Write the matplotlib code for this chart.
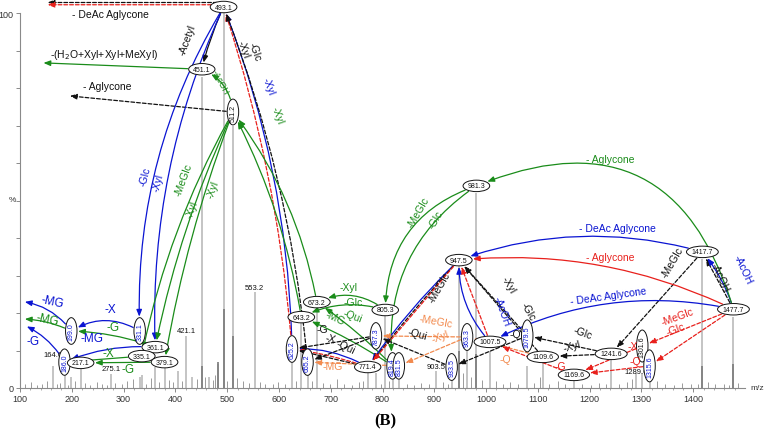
import matplotlib
matplotlib.use('Agg')
import matplotlib.pyplot as plt
from matplotlib.patches import FancyArrowPatch

plt.rcParams['font.family'] = ['Liberation Sans', 'DejaVu Sans']

BLUE = '#0a14d2'
GREEN = '#1a8c1a'
RED = '#e8201c'
ORANGE = '#f28a4e'
BLACK = '#111111'

# main peaks of the spectrum (m/z, % intensity)
peak_mz = [164.6, 186.0, 199.0, 217.1, 275.1, 331.1, 335.1, 361.1, 379.1, 405.0,
           421.1, 433.0, 451.1, 465.0, 483.0, 493.1, 511.2, 553.2, 625.2, 643.2,
           655.2, 673.2, 771.4, 787.3, 805.3, 819.4, 831.5, 903.5, 933.5, 947.5,
           963.3, 981.3, 1007.5, 1079.5, 1109.6, 1169.6, 1241.6, 1289.6, 1301.6,
           1315.6, 1417.7, 1477.7]
peak_int = [6.0, 4.0, 3.0, 5.0, 3.7, 3.0, 3.5, 5.5, 6.0, 4.5,
            14.0, 3.0, 83.0, 3.0, 6.4, 100.0, 70.0, 25.5, 8.0, 17.5,
            7.0, 21.5, 5.0, 4.0, 19.5, 3.0, 3.0, 4.5, 3.0, 32.5,
            12.0, 52.0, 10.0, 6.0, 7.0, 3.0, 8.5, 4.0, 4.0,
            3.0, 34.5, 19.0]

# darker lower parts of the strongest peaks
dark_mz = [451.1, 483.0, 493.1, 511.2, 947.5, 981.3, 1417.7, 1477.7]
dark_int = [6.0, 7.0, 21.0, 14.0, 10.0, 9.0, 6.0, 6.5]

# small background peaks
noise_mz = [110, 121, 132, 143, 152, 171, 178, 193, 207, 226, 236, 248, 259, 268,
            284, 296, 307, 318, 344, 352, 369, 388, 396, 413, 441, 458, 472, 477,
            500, 519, 530, 542, 563, 574, 588, 599, 611, 633, 664, 686, 698, 712,
            725, 741, 755, 763, 797, 812, 847, 861, 875, 889, 916, 926, 955, 971,
            992, 1019, 1032, 1047, 1061, 1093, 1104, 1121, 1138, 1152, 1186, 1203,
            1219, 1232, 1256, 1273, 1281, 1331, 1346, 1362, 1379, 1396, 1410,
            1428, 1443, 1459, 1469, 1486]
noise_int = [1.0, 1.5, 0.8, 1.2, 1.8, 1.0, 1.4, 0.9, 2.0, 1.3, 0.8, 1.6, 1.1, 0.9,
             1.4, 1.0, 1.8, 2.5, 1.2, 2.8, 1.5, 2.2, 1.6, 2.0, 2.4, 3.0, 2.2, 3.5,
             2.0, 2.6, 1.8, 1.4, 1.6, 1.2, 1.0, 1.5, 1.2, 1.8, 2.0, 1.4, 1.0, 2.4,
             1.2, 0.9, 1.6, 2.0, 1.2, 1.8, 1.2, 0.9, 1.3, 1.0, 1.5, 1.2, 4.0, 3.0,
             2.2, 1.8, 1.2, 1.5, 1.0, 1.4, 3.0, 1.2, 1.8, 1.0, 1.2, 0.9, 1.3, 1.0,
             1.2, 1.6, 2.5, 1.8, 1.2, 0.9, 1.4, 1.0, 1.2, 1.5, 1.0, 1.2, 0.9, 1.4]

# labelled ions drawn in ellipses: m/z, height of label, vertical?, blue text?
ion_mz = [493.1, 451.1, 511.2, 331.1, 361.1, 335.1, 379.1, 199.0, 186.0, 217.1,
          625.2, 655.2, 643.2, 673.2, 771.4, 787.3, 805.3, 819.4, 831.5,
          933.5, 947.5, 963.3, 981.3, 1007.5, 1079.5, 1109.6, 1169.6, 1241.6,
          1301.6, 1315.6, 1417.7, 1477.7]
ion_y = [101.6, 85.0, 73.6, 15.2, 10.9, 8.5, 6.9, 15.2, 6.9, 6.7,
         10.4, 6.9, 18.9, 22.9, 5.6, 13.9, 20.8, 5.9, 5.9,
         5.6, 34.1, 13.6, 53.9, 12.3, 13.9, 8.3, 3.5, 9.1,
         11.2, 5.9, 36.3, 21.0]
ion_vertical = ['511.2', '331.1', '199.0', '186.0', '625.2', '655.2', '787.3',
                '819.4', '831.5', '933.5', '963.3', '1079.5', '1301.6', '1315.6']
ion_blue = ['331.1', '199.0', '186.0', '625.2', '655.2', '787.3', '819.4',
            '831.5', '933.5', '963.3', '1079.5', '1315.6']

# peaks labelled with plain text
text_mz = [164.6, 275.1, 421.1, 553.2, 903.5, 1289.6]
text_y = [8.8, 5.1, 15.2, 26.9, 5.6, 4.3]

# end points of arrows that leave the spectrum
anchors = {
    'S1': (482, 102.8), 'L1': (152, 102.8),
    'S1r': (482, 102.2), 'L1r': (152, 102.2),
    'L2': (144, 86.7), 'L3': (195, 77.9),
    'L4': (108, 23.0), 'L5': (108, 18.4), 'L6': (112, 16.5),
}

links = [
    ('S1', 'L1', BLACK, '--', 0.0), ('S1r', 'L1r', RED, '--', 0.0),
    ('451.1', 'L2', GREEN, '-', 0.0), ('511.2', 'L3', BLACK, '--', 0.0),
    ('493.1', '451.1', BLACK, '-', 0.05), ('511.2', '451.1', GREEN, '-', 0.3),
    ('493.1', '331.1', BLUE, '-', 0.15), ('493.1', '361.1', BLUE, '-', 0.12),
    ('511.2', '335.1', GREEN, '-', 0.08), ('511.2', '361.1', GREEN, '-', 0.06),
    ('511.2', '379.1', GREEN, '-', 0.05),
    ('625.2', '493.1', BLUE, '-', 0.09), ('625.2', '493.1', RED, '--', 0.06),
    ('655.2', '493.1', BLACK, '--', 0.07),
    ('643.2', '511.2', GREEN, '-', 0.08), ('673.2', '511.2', GREEN, '-', 0.12),
    ('331.1', '199.0', BLUE, '-', 0.3), ('361.1', '199.0', GREEN, '-', 0.08),
    ('361.1', '186.0', BLUE, '-', 0.12), ('335.1', '186.0', GREEN, '-', 0.0),
    ('379.1', '217.1', GREEN, '-', 0.0),
    ('199.0', 'L4', BLUE, '-', 0.2), ('199.0', 'L5', GREEN, '-', 0.1),
    ('186.0', 'L6', BLUE, '-', 0.15),
    ('981.3', '805.3', GREEN, '-', 0.35), ('981.3', '819.4', GREEN, '-', 0.3),
    ('805.3', '673.2', GREEN, '-', 0.3), ('805.3', '643.2', GREEN, '-', 0.2),
    ('819.4', '673.2', GREEN, '-', 0.05), ('819.4', '643.2', GREEN, '-', 0.05),
    ('947.5', '771.4', BLUE, '-', 0.05), ('947.5', '771.4', BLACK, '--', 0.02),
    ('947.5', '771.4', RED, '--', 0.0),
    ('771.4', '625.2', BLUE, '-', 0.15), ('771.4', '625.2', RED, '--', 0.05),
    ('771.4', '625.2', BLACK, '--', 0.0),
    ('787.3', '625.2', BLACK, '--', 0.0), ('787.3', '655.2', BLACK, '--', 0.0),
    ('933.5', '787.3', BLACK, '--', 0.0),
    ('963.3', '787.3', ORANGE, '--', 0.0), ('963.3', '831.5', ORANGE, '--', 0.0),
    ('831.5', '655.2', ORANGE, '--', 0.0), ('1109.6', '963.3', ORANGE, '--', 0.0),
    ('1079.5', '933.5', BLACK, '--', 0.0),
    ('1109.6', '947.5', BLACK, '--', 0.0), ('1079.5', '947.5', BLACK, '--', 0.0),
    ('1007.5', '947.5', BLUE, '-', -0.2), ('1007.5', '947.5', RED, '--', 0.0),
    ('1241.6', '1109.6', BLACK, '--', 0.0), ('1241.6', '1079.5', BLACK, '--', 0.0),
    ('1169.6', '1007.5', RED, '--', 0.0),
    ('1301.6', '1169.6', RED, '--', 0.0), ('1315.6', '1169.6', RED, '--', 0.0),
    ('1477.7', '1301.6', RED, '--', 0.0), ('1477.7', '1315.6', RED, '--', 0.0),
    ('1417.7', '1241.6', BLACK, '--', 0.0),
    ('1477.7', '1417.7', BLACK, '--', 0.0), ('1477.7', '1417.7', BLUE, '-', 0.1),
    ('1477.7', '981.3', GREEN, '-', 0.55),
    ('1417.7', '947.5', BLUE, '-', 0.16),
    ('1477.7', '947.5', RED, '-', 0.14),
    ('1477.7', '1007.5', BLUE, '-', 0.18),
]

# neutral loss labels: text, m/z, height, colour, rotation, size
loss_labels = [
    ('- DeAc Aglycone', 274, 99.7, BLACK, 0, 7.5),
    ('-(H$_2$O+Xyl+Xyl+MeXyl)', 262, 89.0, BLACK, 0, 7.5),
    ('- Aglycone', 268, 80.5, BLACK, 0, 7.5),
    ('-Acetyl', 423, 93.0, BLACK, 70, 7.5),
    ('-Xyl', 531, 90.4, BLACK, -70, 7.5),
    ('-Glc', 554, 89.9, BLACK, -70, 7.5),
    ('-Xyl', 579, 80.5, BLUE, -70, 7.5),
    ('-Xyl', 596, 73.0, GREEN, -70, 7.5),
    ('-AcOH', 486, 81.6, GREEN, -62, 6.5),
    ('-Glc', 341, 56.5, BLUE, 75, 7.5),
    ('-Xyl', 367, 55.0, BLUE, 75, 7.5),
    ('-MeGlc', 415, 55.7, GREEN, 70, 7.5),
    ('-Xyl', 473, 53.0, GREEN, 70, 7.5),
    ('-Xyl', 432, 47.7, GREEN, 70, 7.5),
    ('-MG', 162, 23.2, BLUE, -12, 8.5),
    ('-MG', 152, 18.4, GREEN, -12, 8.5),
    ('-G', 125, 12.5, BLUE, 0, 8.5),
    ('-X', 274, 21.0, BLUE, 0, 8.5),
    ('-G', 280, 16.3, GREEN, 0, 8.5),
    ('-MG', 239, 13.3, BLUE, 0, 8.5),
    ('-X', 270, 9.3, GREEN, 0, 8.5),
    ('-G', 309, 5.1, GREEN, 0, 8.5),
    ('-Xyl', 734, 26.9, GREEN, 0, 7.5),
    ('-Glc', 743, 22.9, GREEN, 0, 7.5),
    ('-Qui', 743, 19.2, GREEN, -20, 7.5),
    ('-MG', 708, 18.9, GREEN, -25, 7.5),
    ('-G', 683, 15.7, BLACK, 0, 7.5),
    ('-X', 699, 13.1, BLACK, -15, 7.5),
    ('-Qui', 728, 10.9, BLACK, -25, 7.5),
    ('-MG', 703, 5.9, ORANGE, 0, 7.5),
    ('-MeGlc', 909, 26.9, BLACK, 60, 7.5),
    ('-MeGlc', 902, 17.9, ORANGE, -10, 7.5),
    ('-Xyl', 911, 13.9, ORANGE, 20, 7.5),
    ('-Qui', 867, 14.4, BLACK, -15, 7.5),
    ('-Xyl', 1043, 27.7, BLACK, -60, 7.5),
    ('-Glc', 1081, 20.5, BLACK, -60, 7.5),
    ('-AcOH', 1031, 20.5, BLUE, -70, 7.5),
    ('-Q', 1056, 14.4, BLACK, 0, 7.5),
    ('-Q', 1037, 7.7, ORANGE, 0, 7.5),
    ('-Glc', 1186, 14.9, BLACK, -20, 7.5),
    ('-Xyl', 1166, 11.2, BLACK, 15, 7.5),
    ('-G', 1143, 5.9, RED, 0, 7.5),
    ('-X', 1284, 11.2, RED, 0, 7.5),
    ('-Q', 1288, 7.2, RED, 0, 7.5),
    ('-MeGlc', 1369, 19.2, RED, 20, 7.5),
    ('-Glc', 1365, 15.7, RED, 20, 7.5),
    ('-MeGlc', 1359, 33.6, BLACK, 60, 7.5),
    ('-AcOH', 1452, 29.6, BLACK, -65, 7.5),
    ('-AcOH', 1495, 31.7, BLUE, -65, 7.5),
    ('- DeAc Aglycone', 1253, 42.7, BLUE, 0, 7.5),
    ('- Aglycone', 1240, 34.9, RED, 0, 7.5),
    ('- DeAc Aglycone', 1236, 24.5, BLUE, 8, 7.5),
    ('- Aglycone', 1240, 61.0, GREEN, 0, 7.5),
    ('-MeGlc', 869, 46.9, GREEN, 60, 7.5),
    ('-Glc', 902, 45.0, GREEN, 60, 7.5),
]

fig = plt.figure(figsize=(7.69, 4.35), dpi=100)
ax = fig.add_axes([20 / 769, 46 / 435, 725 / 769, 375 / 435])
ax.set_xlim(100, 1500)
ax.set_ylim(0, 100)

ax.vlines(noise_mz, 0, noise_int, color='#9a9a9a', lw=0.7, zorder=1)
ax.vlines(peak_mz, 0, peak_int, color='#c4c4c4', lw=1.4, zorder=1)
ax.vlines(dark_mz, 0, dark_int, color='#7a7a7a', lw=1.2, zorder=1)

for s in ['top', 'right']:
    ax.spines[s].set_visible(False)
for s in ['left', 'bottom']:
    ax.spines[s].set_color('#8a8a8a')
    ax.spines[s].set_linewidth(0.8)
ax.set_xticks(range(100, 1500, 100))
ax.set_xticks(range(100, 1500, 20), minor=True)
ax.set_yticks(range(0, 101, 10))
ax.set_yticklabels(['0'] + [''] * 9 + ['100'])
ax.tick_params(axis='both', colors='#8a8a8a', labelcolor='#333333', labelsize=6.5,
               length=3, width=0.7, pad=1.5)
ax.tick_params(axis='x', which='minor', colors='#8a8a8a', length=1.5, width=0.5)

# ion ellipses
ions = {}
for mz, y in zip(ion_mz, ion_y):
    key = f'{mz:.1f}'
    t = ax.text(mz, y, key, ha='center', va='center', fontsize=5,
                rotation=90 if key in ion_vertical else 0,
                color=BLUE if key in ion_blue else BLACK,
                bbox=dict(boxstyle='ellipse,pad=0.08', fc='white', ec=BLACK, lw=0.7),
                zorder=6, clip_on=False)
    ions[key] = (mz, y, t)

for mz, y in zip(text_mz, text_y):
    ax.text(mz, y, f'{mz:.1f}', ha='center', va='center', fontsize=5.5,
            color=BLACK, zorder=5)

for text, x, y, c, rot, size in loss_labels:
    ax.text(x, y, text, ha='center', va='center', fontsize=size, color=c,
            rotation=rot, rotation_mode='anchor', zorder=7, clip_on=False)

fig.canvas.draw()

for src, dst, c, ls, rad in links:
    if src in ions:
        p0, pa = ions[src][:2], ions[src][2].get_bbox_patch()
    else:
        p0, pa = anchors[src], None
    if dst in ions:
        p1, pb = ions[dst][:2], ions[dst][2].get_bbox_patch()
    else:
        p1, pb = anchors[dst], None
    arr = FancyArrowPatch(p0, p1, connectionstyle=f'arc3,rad={rad}',
                          arrowstyle='-|>,head_length=4,head_width=1.6',
                          mutation_scale=1, color=c, lw=0.9,
                          linestyle=(0, (3, 1.6)) if ls == '--' else '-',
                          patchA=pa, patchB=pb, shrinkA=0.5, shrinkB=0.5,
                          clip_on=False, zorder=4)
    ax.add_patch(arr)

fig.text(12 / 769, 1 - 201 / 435, '%', fontsize=6, color='#333333',
         ha='center', va='center')
fig.text(750 / 769, 1 - 389 / 435, 'm/z', fontsize=6, color='#333333',
         ha='left', va='center')
fig.text(385 / 769, 1 - 421 / 435, '(B)', family=['Liberation Serif', 'DejaVu Serif'],
         fontweight='bold', fontsize=12, ha='center', va='center')

fig.savefig('out.png', dpi=100)
